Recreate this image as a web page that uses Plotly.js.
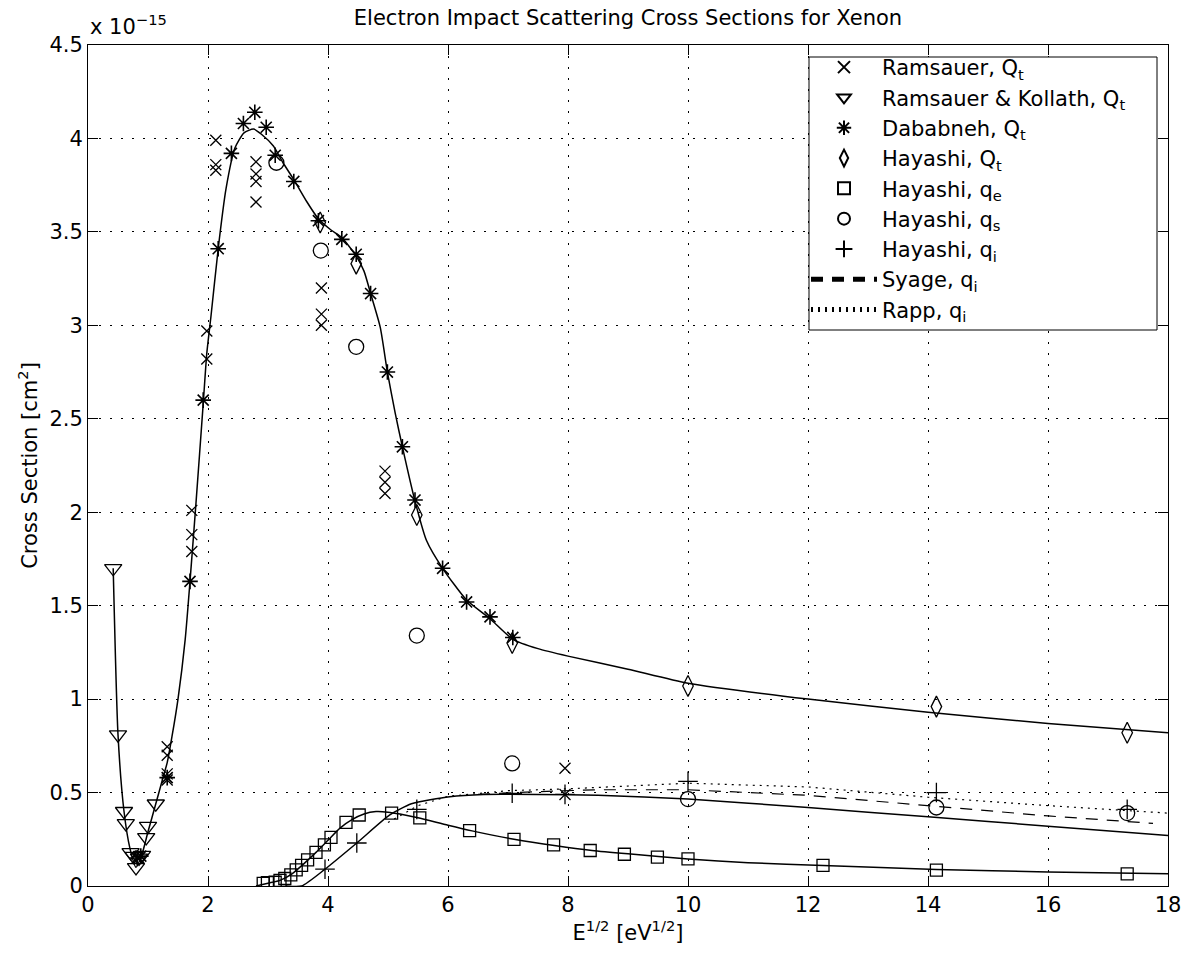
<!DOCTYPE html>
<html>
<head>
<meta charset="utf-8">
<script src="https://cdn.plot.ly/plotly-3.0.1.min.js"></script>
<style>html,body{margin:0;padding:0;background:#fff;}#chart{width:1189px;height:955px;}</style>
</head>
<body>
<div id="chart"></div>
<script>
// Values in units of 1e-15 cm^2, x = E^(1/2) [eV^(1/2)]
const ramsauerX = [0.85, 1.32, 1.32, 1.32, 1.32, 1.73, 1.73, 1.73, 1.98, 1.98, 2.13, 2.13, 2.13, 2.8, 2.8, 2.8, 2.8, 3.89, 3.89, 3.89, 4.95, 4.95, 4.95, 7.95, 7.95];
const ramsauerY = [0.15, 0.745, 0.70, 0.60, 0.567, 2.01, 1.88, 1.79, 2.97, 2.82, 3.99, 3.86, 3.83, 3.875, 3.81, 3.77, 3.66, 3.20, 3.06, 3.00, 2.22, 2.16, 2.10, 0.63, 0.49];

const kollathX = [0.42, 0.50, 0.60, 0.63, 0.71, 0.76, 0.80, 0.85, 0.90, 0.97, 1.00, 1.13];
const kollathY = [1.70, 0.81, 0.40, 0.335, 0.18, 0.16, 0.10, 0.15, 0.165, 0.26, 0.32, 0.44];

const dababnehX = [0.82, 0.88, 1.32, 1.70, 1.92, 2.17, 2.39, 2.59, 2.78, 2.97, 3.12, 3.43, 3.84, 4.23, 4.47, 4.71, 4.99, 5.24, 5.45, 5.91, 6.31, 6.70, 7.08];
const dababnehY = [0.15, 0.16, 0.58, 1.63, 2.60, 3.41, 3.92, 4.08, 4.14, 4.06, 3.91, 3.77, 3.56, 3.46, 3.38, 3.17, 2.75, 2.35, 2.065, 1.70, 1.52, 1.44, 1.33];

const hayashiQtX = [3.87, 4.47, 5.48, 7.07, 10.0, 14.14, 17.32];
const hayashiQtY = [3.55, 3.33, 1.985, 1.30, 1.07, 0.96, 0.82];

const hayashiQeX = [2.92, 2.99, 3.12, 3.20, 3.28, 3.38, 3.47, 3.56, 3.66, 3.80, 3.94, 4.05, 4.30, 4.52, 5.06, 5.53, 6.36, 7.10, 7.76, 8.37, 8.94, 9.49, 10.0, 12.25, 14.14, 17.32];
const hayashiQeY = [0.014, 0.018, 0.02, 0.03, 0.04, 0.06, 0.086, 0.11, 0.14, 0.18, 0.22, 0.26, 0.34, 0.38, 0.39, 0.365, 0.296, 0.25, 0.22, 0.19, 0.17, 0.155, 0.145, 0.11, 0.085, 0.065];

const hayashiQsX = [3.14, 3.88, 4.47, 5.48, 7.07, 10.0, 14.14, 17.32];
const hayashiQsY = [3.87, 3.40, 2.885, 1.34, 0.656, 0.465, 0.42, 0.39];

const hayashiQiX = [3.95, 4.48, 5.48, 7.07, 7.95, 10.0, 14.14, 17.32];
const hayashiQiY = [0.09, 0.23, 0.41, 0.496, 0.49, 0.56, 0.50, 0.41];

// Fitted / reference curves
const qtFitX = [0.42, 0.50, 0.60, 0.70, 0.80, 0.90, 1.00, 1.13, 1.25, 1.32, 1.40, 1.50, 1.62, 1.70, 1.80, 1.92, 1.98, 2.05, 2.17, 2.30, 2.45, 2.60, 2.76, 2.90, 3.09, 3.25, 3.43, 3.65, 3.84, 4.05, 4.23, 4.47, 4.60, 4.71, 4.87, 4.99, 5.12, 5.24, 5.45, 5.64, 5.91, 6.31, 6.70, 7.08, 7.50, 8.00, 9.00, 10.0, 12.0, 14.0, 16.0, 18.0];
const qtFitY = [1.70, 0.81, 0.40, 0.20, 0.10, 0.17, 0.29, 0.44, 0.58, 0.66, 0.80, 1.00, 1.32, 1.63, 2.05, 2.58, 2.85, 3.05, 3.41, 3.73, 3.95, 4.03, 4.05, 4.02, 3.96, 3.87, 3.78, 3.66, 3.57, 3.51, 3.47, 3.37, 3.29, 3.17, 2.99, 2.75, 2.53, 2.35, 2.06, 1.85, 1.70, 1.53, 1.43, 1.32, 1.27, 1.23, 1.16, 1.085, 1.00, 0.93, 0.87, 0.82];

const qeFitX = [2.80, 3.00, 3.20, 3.40, 3.60, 3.80, 4.00, 4.20, 4.40, 4.60, 4.80, 5.00, 5.20, 5.50, 6.00, 6.40, 7.10, 7.80, 8.40, 9.00, 10.0, 11.0, 12.25, 14.14, 16.0, 18.0];
const qeFitY = [0.0, 0.015, 0.03, 0.065, 0.12, 0.18, 0.245, 0.31, 0.355, 0.385, 0.398, 0.395, 0.385, 0.365, 0.325, 0.295, 0.25, 0.215, 0.19, 0.172, 0.145, 0.125, 0.11, 0.088, 0.075, 0.065];

const qiFitX = [3.30, 3.56, 3.95, 4.48, 5.03, 5.39, 6.03, 6.59, 7.50, 8.50, 10.0, 12.0, 14.0, 16.0, 18.0];
const qiFitY = [0.0, 0.0, 0.09, 0.23, 0.38, 0.44, 0.478, 0.49, 0.49, 0.485, 0.465, 0.42, 0.37, 0.32, 0.27];

const syageX = [6.5, 7.5, 8.5, 10.0, 12.0, 14.0, 16.0, 17.75];
const syageY = [0.49, 0.505, 0.515, 0.515, 0.485, 0.43, 0.375, 0.335];

const rappX = [5.0, 5.5, 6.0, 7.0, 8.0, 10.0, 12.0, 14.0, 16.0, 18.0];
const rappY = [0.34, 0.43, 0.48, 0.51, 0.52, 0.55, 0.53, 0.475, 0.43, 0.39];

const xTicks = [0, 2, 4, 6, 8, 10, 12, 14, 16, 18];
const yTicks = [0, 0.5, 1, 1.5, 2, 2.5, 3, 3.5, 4, 4.5];
const yTickText = ['0', '0.5', '1', '1.5', '2', '2.5', '3', '3.5', '4', '4.5'];

const FONT = 'DejaVu Sans, Liberation Sans, Arial, sans-serif';
const FS = 21;
const K = '#000';

function fitLine(x, y) {
  return {x: x, y: y, mode: 'lines', type: 'scatter', showlegend: false, hoverinfo: 'skip',
          line: {color: K, width: 1.5, shape: 'spline', smoothing: 0.6}};
}
function markers(x, y, name, symbol, size, lw) {
  return {x: x, y: y, mode: 'markers', type: 'scatter', name: name,
          marker: {symbol: symbol, size: size, color: K, line: {color: K, width: lw}}};
}

const data = [
  fitLine(qtFitX, qtFitY),
  fitLine(qeFitX, qeFitY),
  fitLine(qiFitX, qiFitY),
  markers(ramsauerX, ramsauerY, 'Ramsauer, Q<sub>t</sub>', 'x-thin-open', 11, 1.3),
  markers(kollathX, kollathY, 'Ramsauer &amp; Kollath, Q<sub>t</sub>', 'triangle-down-open', 15, 1.3),
  markers(dababnehX, dababnehY, 'Dababneh, Q<sub>t</sub>', 'asterisk-open', 13, 1.6),
  markers(hayashiQtX, hayashiQtY, 'Hayashi, Q<sub>t</sub>', 'diamond-tall-open', 15, 1.3),
  markers(hayashiQeX, hayashiQeY, 'Hayashi, q<sub>e</sub>', 'square-open', 12, 1.3),
  markers(hayashiQsX, hayashiQsY, 'Hayashi, q<sub>s</sub>', 'circle-open', 15, 1.3),
  markers(hayashiQiX, hayashiQiY, 'Hayashi, q<sub>i</sub>', 'cross-thin-open', 14, 1.3),
  {x: syageX, y: syageY, mode: 'lines', type: 'scatter', name: 'Syage, q<sub>i</sub>',
   line: {color: K, width: 1.2, dash: '12px,9px'}},
  {x: rappX, y: rappY, mode: 'lines', type: 'scatter', name: 'Rapp, q<sub>i</sub>',
   line: {color: K, width: 1.2, dash: '2px,5px'}}
];

const axisCommon = {
  showline: true, linecolor: K, linewidth: 1, mirror: 'ticks',
  ticks: 'inside', ticklen: 10, tickcolor: K, tickwidth: 1,
  showgrid: true, gridcolor: K, gridwidth: 1, griddash: '2px,9px',
  zeroline: false, tickfont: {family: FONT, size: FS, color: K}
};

// legend frame position (pixels -> paper)
const PL = 88, PR = 1168, PT = 45, PB = 886;
const px2x = p => (p - PL) / (PR - PL);
const px2y = p => (PB - p) / (PB - PT);

const layout = {
  width: 1189, height: 955,
  margin: {l: PL, r: 1189 - PR, t: PT, b: 955 - PB},
  paper_bgcolor: '#fff', plot_bgcolor: '#fff',
  font: {family: FONT, color: K},
  title: {text: 'Electron Impact Scattering Cross Sections for Xenon',
          font: {family: FONT, size: FS, color: K},
          x: 0.5, xref: 'paper', xanchor: 'center', y: 0.981, yref: 'container', yanchor: 'middle'},
  xaxis: Object.assign({}, axisCommon, {
    range: [0, 18], tickvals: xTicks, ticktext: xTicks.map(String),
    title: {text: 'E<sup>1/2</sup> [eV<sup>1/2</sup>]', font: {family: FONT, size: FS, color: K}, standoff: 2}
  }),
  yaxis: Object.assign({}, axisCommon, {
    range: [0, 4.5], tickvals: yTicks, ticktext: yTickText,
    title: {text: 'Cross Section [cm<sup>2</sup>]', font: {family: FONT, size: FS, color: K}, standoff: 6}
  }),
  shapes: [{
    type: 'rect', xref: 'paper', yref: 'paper', layer: 'above',
    x0: px2x(809), x1: px2x(1157), y0: px2y(330), y1: px2y(57),
    line: {color: K, width: 1}, fillcolor: '#fff'
  }],
  legend: {
    x: px2x(806), xanchor: 'left', y: px2y(47), yanchor: 'top',
    bgcolor: 'rgba(0,0,0,0)', borderwidth: 0,
    font: {family: FONT, size: FS, color: K},
    itemwidth: 66, tracegroupgap: 0, itemsizing: 'constant'
  },
  annotations: [{
    text: 'x 10<sup>−15</sup>', xref: 'paper', yref: 'paper', x: 0, y: 1,
    xanchor: 'left', yanchor: 'bottom', yshift: 4, showarrow: false,
    font: {family: FONT, size: FS, color: K}
  }]
};

Plotly.newPlot('chart', data, layout, {displayModeBar: false, staticPlot: true});
</script>
</body>
</html>
